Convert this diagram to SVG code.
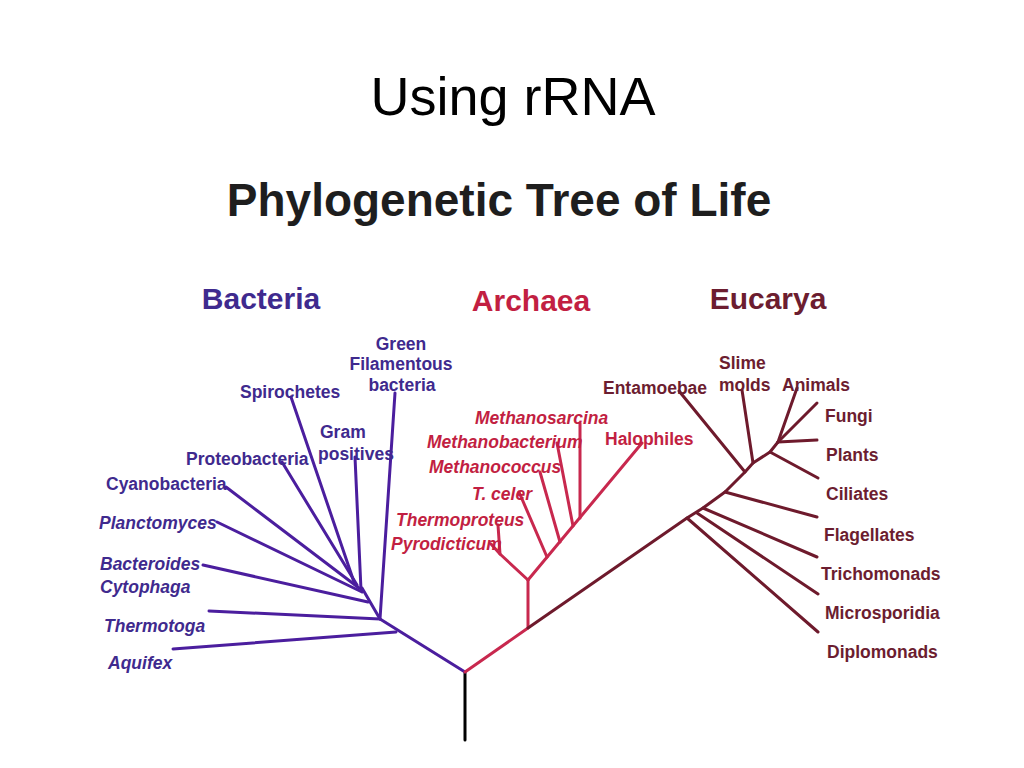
<svg xmlns="http://www.w3.org/2000/svg" width="1024" height="768" viewBox="0 0 1024 768">
<style>
text{font-family:"Liberation Sans",Arial,sans-serif;font-weight:bold}
.lbl{font-size:17.5px}
.it{font-style:italic}
.b{fill:#3f2a8e}
.a{fill:#c21f42}
.e{fill:#6c1d30}
.lb{stroke:#4b1e9e}
.la{stroke:#c8284e}
.le{stroke:#6e1a2c}
line,polyline{stroke-width:3;fill:none;stroke-linecap:round;stroke-linejoin:round}
</style>
<rect width="1024" height="768" fill="#ffffff"/>
<g id="titles">
<text x="513" y="115" text-anchor="middle" style="font-weight:normal;font-size:54px" fill="#000">Using rRNA</text>
<text x="499" y="216" text-anchor="middle" style="font-size:46px" fill="#1e1e1e">Phylogenetic Tree of Life</text>
<text x="261" y="309" text-anchor="middle" style="font-size:30px" class="b">Bacteria</text>
<text x="531" y="311" text-anchor="middle" style="font-size:30px" class="a">Archaea</text>
<text x="768" y="309" text-anchor="middle" style="font-size:30px" class="e">Eucarya</text>
</g>
<g id="connectors">
<line x1="465" y1="672" x2="465" y2="740" stroke="#000"/>
<polyline class="lb" points="465,672 380,619 362,588"/>
<line class="lb" x1="380" y1="619" x2="395" y2="393"/>
<line class="lb" x1="380" y1="619" x2="209" y2="611"/>
<line class="lb" x1="396" y1="632" x2="173" y2="649"/>
<line class="lb" x1="368" y1="602" x2="203" y2="565"/>
<line class="lb" x1="362" y1="592" x2="217" y2="522"/>
<line class="lb" x1="361" y1="590" x2="355" y2="457"/>
<line class="lb" x1="359" y1="588" x2="226" y2="487"/>
<line class="lb" x1="357" y1="585" x2="282" y2="462"/>
<line class="lb" x1="354" y1="582" x2="291" y2="397"/>
<polyline class="la" points="465,672 528,628 528,580"/>
<line class="la" x1="528" y1="580" x2="642" y2="443"/>
<polyline class="la" points="528,580 500,554 498,525"/>
<line class="la" x1="500" y1="554" x2="491" y2="544"/>
<line class="la" x1="547" y1="557" x2="519" y2="492"/>
<line class="la" x1="560" y1="542" x2="540" y2="472"/>
<line class="la" x1="573" y1="526" x2="557" y2="443"/>
<line class="la" x1="580" y1="518" x2="580" y2="423"/>
<polyline class="le" points="528,628 687,518 703,508 725,492 745,472 753,463 770,452 778,442"/>
<line class="le" x1="687" y1="518" x2="818" y2="632"/>
<line class="le" x1="697" y1="513" x2="818" y2="594"/>
<line class="le" x1="703" y1="508" x2="817" y2="557"/>
<line class="le" x1="725" y1="492" x2="817" y2="517"/>
<line class="le" x1="770" y1="452" x2="818" y2="478"/>
<line class="le" x1="778" y1="442" x2="817" y2="440"/>
<line class="le" x1="778" y1="442" x2="817" y2="403"/>
<line class="le" x1="778" y1="442" x2="797" y2="388"/>
<line class="le" x1="753" y1="463" x2="742" y2="390"/>
<line class="le" x1="745" y1="472" x2="679" y2="391"/>
</g>
<g id="bacteria">
<g id="green-filamentous"><text class="lbl b" x="401" y="350" text-anchor="middle">Green</text><text class="lbl b" x="401" y="370" text-anchor="middle">Filamentous</text><text class="lbl b" x="402" y="391" text-anchor="middle">bacteria</text></g>
<g id="spirochetes"><text class="lbl b" x="240" y="398">Spirochetes</text></g>
<g id="gram-positives"><text class="lbl b" x="320" y="438">Gram</text><text class="lbl b" x="318" y="460">positives</text></g>
<g id="proteobacteria"><text class="lbl b" x="186" y="465">Proteobacteria</text></g>
<g id="cyanobacteria"><text class="lbl b" x="106" y="490">Cyanobacteria</text></g>
<g id="planctomyces"><text class="lbl b it" x="99" y="529">Planctomyces</text></g>
<g id="bacteroides"><text class="lbl b it" x="100" y="570">Bacteroides</text><text class="lbl b it" x="100" y="593">Cytophaga</text></g>
<g id="thermotoga"><text class="lbl b it" x="104" y="632">Thermotoga</text></g>
<g id="aquifex"><text class="lbl b it" x="108" y="669">Aquifex</text></g>
</g>
<g id="archaea">
<g id="methanosarcina"><text class="lbl a it" x="475" y="424">Methanosarcina</text></g>
<g id="methanobacterium"><text class="lbl a it" x="427" y="448">Methanobacterium</text></g>
<g id="methanococcus"><text class="lbl a it" x="429" y="473">Methanococcus</text></g>
<g id="t-celer"><text class="lbl a it" x="472" y="500">T. celer</text></g>
<g id="thermoproteus"><text class="lbl a it" x="396" y="526">Thermoproteus</text></g>
<g id="pyrodicticum"><text class="lbl a it" x="391" y="550">Pyrodicticum</text></g>
<g id="halophiles"><text class="lbl a" x="605" y="445">Halophiles</text></g>
</g>
<g id="eucarya">
<g id="slime-molds"><text class="lbl e" x="719" y="369">Slime</text><text class="lbl e" x="719" y="391">molds</text></g>
<g id="animals"><text class="lbl e" x="782" y="391">Animals</text></g>
<g id="entamoebae"><text class="lbl e" x="603" y="394">Entamoebae</text></g>
<g id="fungi"><text class="lbl e" x="825" y="422">Fungi</text></g>
<g id="plants"><text class="lbl e" x="826" y="461">Plants</text></g>
<g id="ciliates"><text class="lbl e" x="826" y="500">Ciliates</text></g>
<g id="flagellates"><text class="lbl e" x="824" y="541">Flagellates</text></g>
<g id="trichomonads"><text class="lbl e" x="821" y="580">Trichomonads</text></g>
<g id="microsporidia"><text class="lbl e" x="825" y="619">Microsporidia</text></g>
<g id="diplomonads"><text class="lbl e" x="827" y="658">Diplomonads</text></g>
</g>
</svg>
